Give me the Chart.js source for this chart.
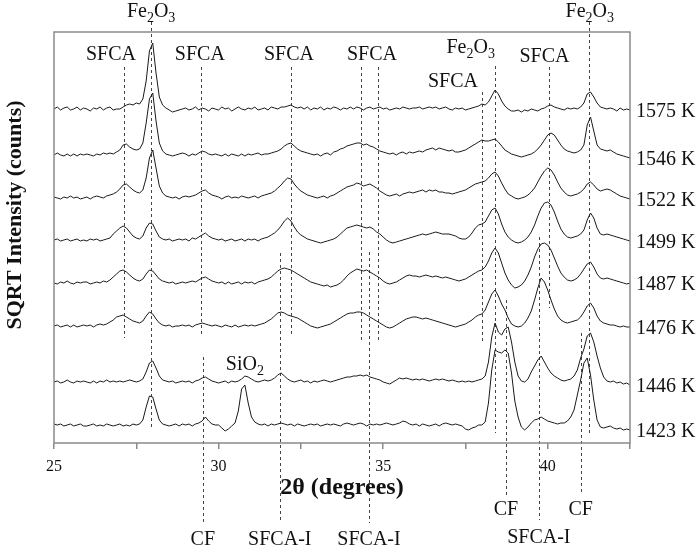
<!DOCTYPE html>
<html>
<head>
<meta charset="utf-8">
<script src="https://cdn.jsdelivr.net/npm/chart.js@4.4.1/dist/chart.umd.min.js"></script>
<style>
  body { margin: 0; background: #fff; }
</style>
</head>
<body>
<canvas id="xrdChart" width="700" height="547"></canvas>
<script>
// ============================================
// XRD SCANS (SQRT intensity, 25 - 42.5 deg 2theta)
// ============================================

const temperatures = [1575, 1546, 1522, 1499, 1487, 1476, 1446, 1423];

// vertical offset of each scan in the stack
const traceOffsets = [334, 288, 245, 203, 160, 117, 61, 18];

const scanStart = 25.0;
const scanStep = 0.1;

// one row per degree (25.x, 26.x, ... 42.0-42.5)
const i1575 = [
    0, 2, -1, 1, 2, -1, 0, 2, -1, 1,
    0, -2, 1, 0, 2, -1, 1, 2, -1, 0,
    0, 2, 4, 5, 4, 6, 5, 10, 28, 58,
    66, 36, 12, 4, 1, -1, -3, -2, -1, 0,
    1, -1, 0, 2, -1, 1, 0, -2, 1, 0,
    -1, 2, 0, 1, -2, 0, 2, 0, -1, 1,
    0, 2, -1, 0, 1, -1, 2, 1, 0, 2,
    2, 3, 4, 2, 1, 2, 0, 2, -1, 1,
    0, 2, -1, 1, 0, 2, 1, -1, 1, 0,
    2, 0, 2, 1, -1, 1, 2, 0, 1, 2,
    0, 1, -1, 0, 1, 0, 2, 1, 0, 1,
    1, 2, 0, 1, 2, 1, 2, 0, 1, 2,
    0, -1, 1, 0, 1, -1, 0, 1, 2, 3,
    5, 4, 7, 13, 19, 15, 8, 3, 0, -2,
    -2, -1, -3, -1, -2, 0, -1, -2, 0, 1,
    3, 4, 2, 1, 0, -1, 1, 0, 1, 0,
    2, 6, 15, 17, 12, 6, 2, 1, 0, 1,
    0, -2, 1, -1, 0, -1
];

const i1546 = [
    0, 2, 0, -1, 1, -1, 1, -1, 1, 0,
    1, 0, -1, 1, 0, 2, 1, 2, 1, 3,
    5, 10, 11, 8, 6, 5, 6, 12, 32, 56,
    62, 34, 12, 4, 1, 0, -1, 0, 1, 2,
    1, -1, 1, 0, 2, 4, 3, 1, 0, 1,
    0, -1, 1, -1, 1, 0, -1, 1, -1, 1,
    0, 1, 2, 0, 1, 1, 2, 3, 4, 6,
    9, 11, 12, 9, 6, 4, 3, 2, 1, 0,
    1, -1, 1, 2, 0, 3, 4, 6, 7, 9,
    10, 11, 12, 12, 10, 11, 9, 8, 6, 4,
    3, 2, 1, 2, 0, 2, 3, 1, 3, 2,
    3, 4, 3, 5, 6, 7, 5, 7, 6, 5,
    4, 5, 3, 3, 4, 5, 7, 9, 11, 13,
    15, 14, 14, 15, 16, 13, 9, 5, 3, 1,
    0, -1, -2, -1, 0, 1, 3, 6, 10, 15,
    20, 22, 20, 15, 10, 6, 4, 3, 2, 3,
    5, 10, 30, 38, 24, 10, 6, 5, 4, 5,
    3, 1, 0, -1, -2, -3
];

const i1522 = [
    1, 0, -1, 1, 0, 2, 0, 1, -1, 0,
    1, -1, 1, 2, 1, 0, 2, 3, 4, 6,
    9, 13, 14, 11, 8, 6, 5, 8, 20, 40,
    48, 30, 12, 5, 2, 1, 0, 1, -1, 1,
    2, 1, 2, 3, 5, 7, 8, 5, 3, 2,
    1, -1, 1, 2, 0, 1, 0, 2, 1, 0,
    1, 2, 0, 2, 3, 4, 5, 7, 10, 13,
    17, 20, 19, 14, 10, 7, 5, 3, 2, 1,
    0, 1, 2, 0, 2, 3, 5, 7, 9, 11,
    12, 13, 15, 14, 12, 13, 14, 12, 10, 7,
    5, 3, 2, 3, 4, 2, 4, 5, 6, 5,
    6, 7, 8, 6, 8, 7, 8, 6, 6, 5,
    5, 4, 5, 6, 7, 8, 10, 12, 14, 15,
    16, 17, 20, 24, 26, 22, 15, 9, 4, 2,
    0, -1, 0, 1, 3, 6, 10, 16, 22, 27,
    30, 28, 23, 16, 10, 6, 3, 2, 3, 4,
    6, 9, 14, 16, 13, 9, 7, 8, 9, 8,
    6, 4, 2, 1, 0, -1
];

const i1499 = [
    0, 1, -1, 0, 1, -1, 0, 1, -1, 0,
    -1, 1, 0, 1, -1, 0, 1, 2, 6, 9,
    12, 14, 12, 8, 4, 2, 1, 4, 12, 17,
    16, 9, 3, 1, 0, 1, -1, 0, 1, 0,
    1, -1, 2, 1, 3, 5, 7, 4, 2, 1,
    0, 1, -1, 0, 1, -1, 0, 1, -1, 1,
    0, 1, -1, 1, 2, 3, 5, 7, 10, 14,
    19, 22, 19, 13, 8, 5, 3, 1, 0, -1,
    -2, -3, -2, -1, 0, 1, 3, 6, 9, 12,
    13, 14, 15, 14, 13, 12, 13, 11, 8, 6,
    3, 0, -2, -3, -2, -1, 0, 1, 2, 3,
    4, 5, 6, 5, 6, 7, 8, 7, 6, 6,
    6, 5, 4, 2, 1, 1, 3, 7, 12, 15,
    16, 18, 24, 30, 32, 26, 16, 8, 3, 0,
    -2, -3, -2, 0, 3, 8, 15, 24, 32, 37,
    38, 35, 28, 19, 11, 6, 3, 2, 3, 4,
    6, 10, 20, 27, 22, 12, 6, 5, 6, 5,
    4, 3, 2, 1, 0, -1
];

const i1487 = [
    0, -1, 1, 0, 2, 0, -1, 1, 0, 1,
    1, -1, 0, 1, 0, 2, 1, 3, 6, 9,
    12, 13, 11, 8, 5, 3, 2, 4, 9, 13,
    12, 8, 4, 2, 1, 0, 1, -1, 0, 1,
    0, 1, 2, 1, 3, 5, 6, 4, 2, 1,
    0, 1, -1, 1, -1, 0, 1, -1, 1, 0,
    1, -1, 1, 2, 3, 4, 6, 9, 12, 14,
    15, 14, 13, 11, 9, 7, 5, 3, 1, 0,
    -1, -2, -3, -2, -4, -3, -2, 0, 3, 7,
    10, 12, 14, 13, 12, 13, 11, 9, 7, 5,
    2, 0, -1, 0, 1, 3, 5, 7, 8, 7,
    7, 6, 7, 8, 7, 6, 7, 6, 5, 6,
    5, 4, 3, 2, 3, 4, 6, 8, 10, 12,
    13, 16, 22, 30, 35, 30, 20, 10, 3, -2,
    -5, -4, -2, 2, 8, 16, 26, 34, 39, 40,
    38, 33, 25, 17, 10, 6, 3, 2, 3, 5,
    9, 14, 19, 21, 16, 9, 5, 4, 5, 4,
    3, 2, 1, 0, -1, 0
];

const i1476 = [
    0, 1, -1, 0, 1, -1, 1, -1, 0, 1,
    0, 1, -1, 1, 2, 1, 2, 4, 6, 9,
    10, 11, 9, 7, 5, 4, 3, 5, 10, 14,
    12, 7, 3, 1, 0, 1, -1, 0, 0, 1,
    0, 1, -1, 1, 2, 3, 2, 1, 0, 1,
    0, -1, 1, 0, -1, 1, -1, 0, 1, 0,
    1, 0, 1, 2, 3, 5, 7, 10, 13, 14,
    13, 11, 10, 9, 8, 6, 4, 2, 0, -1,
    -2, -1, 0, 1, 2, 4, 6, 8, 10, 12,
    13, 13, 14, 14, 13, 11, 9, 7, 5, 3,
    1, -1, -2, -1, 1, 3, 5, 7, 8, 9,
    9, 8, 7, 8, 7, 6, 5, 4, 3, 2,
    1, 0, -1, 0, 1, 2, 4, 6, 9, 11,
    12, 16, 24, 32, 36, 30, 22, 16, 8, 2,
    0, -1, 0, 3, 8, 15, 26, 38, 48, 44,
    36, 26, 17, 10, 6, 4, 3, 4, 5, 6,
    9, 14, 20, 23, 18, 10, 5, 3, 2, 1,
    1, 0, -1, 0, -1, -1
];

const i1446 = [
    0, 1, -1, 0, 2, 0, -1, 1, 0, 1,
    0, -1, 1, -1, 1, 0, 2, 0, 1, 0,
    1, 0, 1, 2, 1, 0, 1, 3, 10, 19,
    21, 14, 6, 2, 1, 0, 1, -1, 0, 1,
    0, 1, -1, 1, 2, 4, 5, 3, 1, 0,
    -1, 0, 1, -1, 1, 0, 1, 3, 6, 5,
    3, 1, 0, 1, 2, 1, 2, 4, 7, 9,
    6, 3, 1, 0, 1, 2, 0, 1, -1, 1,
    0, 1, 2, 1, 0, 1, 2, 3, 4, 5,
    5, 6, 6, 7, 6, 7, 5, 4, 3, 2,
    0, -1, -2, 0, 2, 4, 3, 4, 3, 2,
    3, 2, 3, 2, 1, 2, 3, 2, 3, 2,
    1, 2, 1, 0, 1, 0, 1, 0, 1, 2,
    3, 6, 20, 45, 59, 50, 47, 53, 55, 40,
    20, 6, 1, 0, 3, 10, 16, 22, 26, 20,
    14, 9, 6, 4, 2, 1, 2, 3, 6, 12,
    24, 33, 46, 49, 40, 26, 14, 5, 1, 0,
    1, -1, 0, -2, -1, -3
];

const i1423 = [
    1, 0, 1, -1, 0, 1, -1, 0, 1, -1,
    -1, 0, 1, -1, 0, -1, 1, 0, -1, 0,
    1, -1, 0, -1, 1, 0, 1, 5, 18, 29,
    28, 16, 5, 1, 0, -1, 0, 1, -1, 1,
    0, 1, -1, 1, 2, 4, 8, 4, 1, 0,
    0, -3, -6, -4, -1, 2, 14, 36, 40, 22,
    8, 3, 1, 0, 1, -1, 1, 0, 1, 2,
    1, 0, 1, -1, 1, 0, -1, 0, 1, 0,
    1, -1, 0, 1, 0, 1, 0, -1, 1, 2,
    1, 0, 1, 2, 1, -1, 1, 0, 1, 0,
    1, 2, 1, 0, 1, 2, 4, 3, 1, 0,
    1, -1, 1, 0, -1, 0, 1, -1, 1, 2,
    1, 0, 1, 0, -1, -4, -5, -3, -2, 0,
    0, 3, 22, 55, 75, 73, 72, 75, 72, 52,
    24, 8, -2, -5, -2, 2, 5, 6, 8, 6,
    4, 3, 2, 1, 2, 2, 4, 8, 15, 30,
    45, 62, 67, 50, 25, 5, -2, -3, -2, -1,
    -3, -4, -3, -5, -4, -5
];

const traces = [i1575, i1546, i1522, i1499, i1487, i1476, i1446, i1423];

// phase reference lines: 2theta, top and bottom (in stacked axis units)
const lineTheta  = [27.13, 27.95, 29.46, 29.52, 32.2, 31.86, 34.32, 34.84, 34.57, 38.0, 38.4, 38.73, 39.73, 40.03, 41.0, 41.25];
const lineTop    = [376, 421, 376, 86, 376, 190, 376, 376, 191, 351, 377, 143, 206, 376, 110, 421];
const lineBottom = [105, 13, 106, -79, 106, -80, 103, 103, -80, 101, 10, -54, -77, 135, -50, 10];

// phase labels
const labelText  = ['Fe_2O_3', 'SFCA', 'SFCA', 'SFCA', 'SFCA', 'Fe_2O_3', 'SFCA', 'SFCA', 'Fe_2O_3', 'SiO_2', 'CF', 'SFCA-I', 'SFCA-I', 'CF', 'SFCA-I', 'CF'];
const labelTheta = [27.95, 26.73, 29.43, 32.14, 34.66, 37.66, 37.12, 39.9, 41.28, 30.8, 29.52, 31.86, 34.57, 38.73, 39.73, 41.0];
const labelY     = [431, 388, 388, 388, 388, 395, 361, 386, 431, 78, -97, -97, -97, -67, -95, -67];

const serif = '"Liberation Serif", "Times New Roman", serif';

function drawChem(ctx, text, cx, cy, size) {
    const parts = text.split(/_(\d)/);
    const sub = Math.round(size * 0.72);
    let w = 0;
    parts.forEach((p, k) => {
        ctx.font = (k % 2 ? sub : size) + 'px ' + serif;
        w += ctx.measureText(p).width;
    });
    let x = cx - w / 2;
    parts.forEach((p, k) => {
        ctx.font = (k % 2 ? sub : size) + 'px ' + serif;
        ctx.fillText(p, x, cy + (k % 2 ? size * 0.3 : 0));
        x += ctx.measureText(p).width;
    });
}

const xrdDecor = {
    id: 'xrdDecor',
    beforeDatasetsDraw(chart) {
        const ctx = chart.ctx;
        const xs = chart.scales.x, ys = chart.scales.y;
        ctx.save();
        ctx.strokeStyle = '#444';
        ctx.lineWidth = 1;
        ctx.setLineDash([3, 3]);
        lineTheta.forEach((t, k) => {
            const px = Math.round(xs.getPixelForValue(t)) + 0.5;
            ctx.beginPath();
            ctx.moveTo(px, ys.getPixelForValue(lineTop[k]));
            ctx.lineTo(px, ys.getPixelForValue(lineBottom[k]));
            ctx.stroke();
        });
        ctx.restore();
    },
    afterDraw(chart) {
        const ctx = chart.ctx;
        const xs = chart.scales.x, ys = chart.scales.y;
        const area = chart.chartArea;
        ctx.save();

        // frame
        ctx.strokeStyle = '#8a8a8a';
        ctx.lineWidth = 1.5;
        ctx.strokeRect(area.left, area.top, area.right - area.left, area.bottom - area.top);

        ctx.fillStyle = '#111';
        ctx.textBaseline = 'middle';

        // phase labels
        labelText.forEach((t, k) => {
            drawChem(ctx, t, xs.getPixelForValue(labelTheta[k]), ys.getPixelForValue(labelY[k]), 20);
        });

        // temperature labels
        ctx.textAlign = 'left';
        ctx.font = '20px ' + serif;
        temperatures.forEach((temp, k) => {
            const last = traces[k][traces[k].length - 1];
            ctx.fillText(temp + ' K', area.right + 6, ys.getPixelForValue(traceOffsets[k] + last) + 2);
        });

        // axis titles
        ctx.textAlign = 'center';
        ctx.font = 'bold 24px ' + serif;
        ctx.fillText('2\u03b8 (degrees)', (area.left + area.right) / 2, area.bottom + 45);

        ctx.translate(15, 215);
        ctx.rotate(-Math.PI / 2);
        ctx.font = 'bold 22px ' + serif;
        ctx.fillText('SQRT Intensity (counts)', 0, 0);
        ctx.restore();
    }
};

const xrdChart = new Chart(
    document.getElementById('xrdChart'),
    {
        type: 'line',

        data: {
            datasets: traces.map((vals, k) => ({
                label: temperatures[k] + ' K',
                data: vals.map((v, i) => ({
                    x: +(scanStart + i * scanStep).toFixed(2),
                    y: traceOffsets[k] + v
                })),
                borderColor: '#1a1a1a',
                borderWidth: 1,
                pointRadius: 0,
                tension: 0,
                fill: false
            }))
        },

        options: {
            responsive: false,
            animation: false,
            devicePixelRatio: 1,
            layout: {
                padding: { left: 54, right: 70, top: 32, bottom: 0 }
            },
            plugins: {
                legend: { display: false },
                tooltip: { enabled: false }
            },
            scales: {
                x: {
                    type: 'linear',
                    min: 25,
                    max: 42.5,
                    border: { display: false },
                    grid: {
                        drawOnChartArea: false,
                        tickLength: 6,
                        color: '#8a8a8a',
                        lineWidth: 1.5
                    },
                    ticks: {
                        stepSize: 2.5,
                        autoSkip: false,
                        maxRotation: 0,
                        padding: 8,
                        color: '#111',
                        font: { family: serif, size: 16 },
                        callback: v => (v % 5 === 0 ? v : '')
                    },
                    afterFit: scale => { scale.height = 104; }
                },
                y: {
                    display: false,
                    min: 0,
                    max: 411
                }
            }
        },

        plugins: [xrdDecor]
    }
);
</script>
</body>
</html>
